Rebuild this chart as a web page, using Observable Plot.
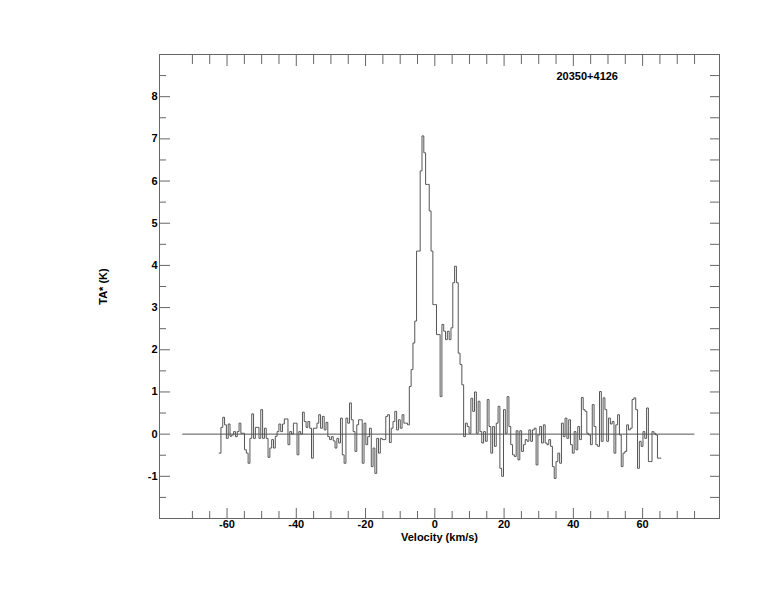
<!DOCTYPE html>
<html><head><meta charset="utf-8">
<script src="https://cdn.jsdelivr.net/npm/d3@7"></script>
<script src="https://cdn.jsdelivr.net/npm/@observablehq/plot@0.6"></script>
<style>body{margin:0;background:#fff} svg{display:block}</style>
</head><body><div id="chart"></div>
<script>
// Spectrum channel grid (km/s): left edge of first channel and channel width
const V0 = -62.28;
const DV = 0.523;

// Antenna temperature TA* (K) per channel
const noiseA = [-0.45, 0.16, 0.40, 0.22, -0.10, 0.24, -0.05, -0.02, 0.06, -0.06, 0.06, 0.26, 0.02, 0.02, -0.37, -0.45, -0.69, -0.10, 0.48, -0.10, 0.16, 0.16, -0.10, 0.58, -0.10, 0.14, -0.10, -0.55, -0.33, -0.13, -0.33, -0.05, 0.06, 0.24, 0.06, 0.24, 0.36, 0.36];
const noiseB = [-0.25, 0.06, 0.00, 0.26, 0.26, -0.49, 0.06, 0.00, 0.52, 0.30, 0.16, 0.30, 0.14, -0.57, 0.14, 0.14, 0.26, 0.46, 0.14, 0.42, 0.10, 0.28, -0.06, -0.13, -0.06, -0.16, -0.33, -0.10, -0.21, 0.38, -0.49, -0.69, 0.38, 0.26, 0.74, 0.34, 0.06, -0.41, 0.22, 0.34, 0.34];
const noiseC = [-0.69, 0.26, -0.25, -0.06, 0.14, -0.77, -0.33, -0.93, -0.10, -0.45, -0.10, -0.13, -0.13, 0.42, 0.46, -0.20, 0.14, 0.30, 0.54, 0.10, 0.34, 0.14, 0.46, 0.26, 0.26, 0.22];
const lineCore = [1.13, 1.53, 2.16, 2.68, 4.34, 4.34, 6.24, 7.07, 6.67, 5.92, 5.92, 5.29, 4.34, 3.07, 3.07, 2.36, 2.36, 0.89, 2.60, 2.44, 2.24, 2.44, 2.24, 2.52, 3.59, 3.98, 3.59, 1.92, 1.65, 1.17, -0.06];
const noiseD = [0.26, 0.18, 0.02, 0.85, 0.54, 1.00, 0.02, 0.78, 0.06, -0.21, 0.06, -0.17, 0.82, 0.18, -0.45, 0.18, -0.29, 0.26, 0.66, -0.81, -1.00, 0.58, 0.02, 0.89];
const noiseE = [0.18, -0.25, -0.49, -0.53, 0.08, -0.61, 0.08, -0.41, -0.25, -0.13, -0.17, 0.10, -0.17, 0.10, 0.14, -0.73, -0.02, 0.18, -0.21, 0.22, -0.21, -0.25, -0.13, -0.29, -0.77, -1.05, -0.65, -0.45, -0.69, 0.26, -0.06, 0.38, -0.10, 0.34, -0.25, -0.45, 0.06, -0.37, 0.18];
const noiseF = [-0.13, 0.87, 0.58, 0.54, 0.02, -0.02, -0.25, 0.70, 0.18, -0.25, -0.29, 1.01, -0.17, 0.86, 0.58, -0.17, 0.38, 0.24, 0.30, -0.45, 0.22, 0.46, -0.02, -0.77, -0.45, -0.41, 0.22, 0.10, 0.14, 0.82, 0.86, 0.58, -0.81, -0.17, -0.29, 0.06, -0.10, 0.62, -0.65, -0.65, 0.06, 0.02, -0.02, -0.57, -0.57];

// Texts and ticks
const sourceName = "20350+4126";
const xLabel = "Velocity (km/s)";
const yLabel = "TA* (K)";
const xTickLabels = [-60, -40, -20, 0, 20, 40, 60];
const xMinorTicks = [-70, -65, -60, -55, -50, -45, -40, -35, -30, -25, -20, -15, -10, -5, 0, 5, 10, 15, 20, 25, 30, 35, 40, 45, 50, 55, 60, 65, 70, 75];
const yTickLabels = [-1, 0, 1, 2, 3, 4, 5, 6, 7, 8];
const yMinorTicks = [-1.5, -1, -0.5, 0, 0.5, 1, 1.5, 2, 2.5, 3, 3.5, 4, 4.5, 5, 5.5, 6, 6.5, 7, 7.5, 8, 8.5];
const xDomain = [-79.5, 82.2];
const yDomain = [-2, 9];
const baselineRange = [-72.8, 75.1];

const TA = [...noiseA, ...noiseB, ...noiseC, ...lineCore, ...noiseD, ...noiseE, ...noiseF];
const spec = TA.map((t, i) => ({v: V0 + i * DV, t}));
spec.push({v: V0 + TA.length * DV, t: TA[TA.length - 1]});

const xMinorOnly = xMinorTicks.filter(d => !xTickLabels.includes(d));
const yMinorOnly = yMinorTicks.filter(d => !yTickLabels.includes(d));
const AX = "#666";
const blank = () => "";
const font = {fontWeight: "bold", fontSize: 11, fill: "#000"};

const chart = Plot.plot({
  width: 774,
  height: 612,
  marginLeft: 159,
  marginRight: 55,
  marginTop: 54,
  marginBottom: 94,
  style: {fontFamily: "'Liberation Sans', Arial, Helvetica, sans-serif", background: "#fff", color: "#000"},
  x: {domain: xDomain},
  y: {domain: yDomain},
  marks: [
    Plot.frame({stroke: AX}),
    // inward ticks, all four sides
    Plot.axisX(xMinorOnly, {anchor: "bottom", tickSize: -7, tickFormat: blank, label: null, stroke: AX}),
    Plot.axisX(xTickLabels, {anchor: "bottom", tickSize: -10, tickFormat: blank, label: null, stroke: AX}),
    Plot.axisX(xMinorOnly, {anchor: "top", tickSize: -9, tickFormat: blank, label: null, stroke: AX}),
    Plot.axisX(xTickLabels, {anchor: "top", tickSize: -11, tickFormat: blank, label: null, stroke: AX}),
    Plot.axisY(yMinorOnly, {anchor: "left", tickSize: -7, tickFormat: blank, label: null, stroke: AX}),
    Plot.axisY(yTickLabels, {anchor: "left", tickSize: -11, tickFormat: blank, label: null, stroke: AX}),
    Plot.axisY(yMinorTicks, {anchor: "right", tickSize: -10, tickFormat: blank, label: null, stroke: AX}),
    // tick labels
    Plot.axisX(xTickLabels, {anchor: "bottom", tickSize: 0, tickPadding: 2, tickFormat: d => String(d), label: null, ...font}),
    Plot.axisY(yTickLabels, {anchor: "left", tickSize: 0, tickPadding: 2, tickFormat: d => String(d), label: null, ...font}),
    // zero baseline
    Plot.ruleY([0], {x1: baselineRange[0], x2: baselineRange[1], stroke: "#555", strokeWidth: 1}),
    // spectrum
    Plot.line(spec, {x: "v", y: "t", curve: "step-after", stroke: "#555", strokeWidth: 1}),
    // texts
    Plot.text([sourceName], {frameAnchor: "top-right", text: d => d, textAnchor: "start", lineAnchor: "middle", dx: -163, dy: 22, ...font}),
    Plot.text([xLabel], {frameAnchor: "bottom", text: d => d, textAnchor: "middle", lineAnchor: "middle", dy: 19, ...font}),
    Plot.text([yLabel], {frameAnchor: "left", text: d => d, textAnchor: "middle", lineAnchor: "middle", rotate: -90, dx: -56, ...font})
  ]
});
document.getElementById("chart").appendChild(chart);
</script>
</body></html>
